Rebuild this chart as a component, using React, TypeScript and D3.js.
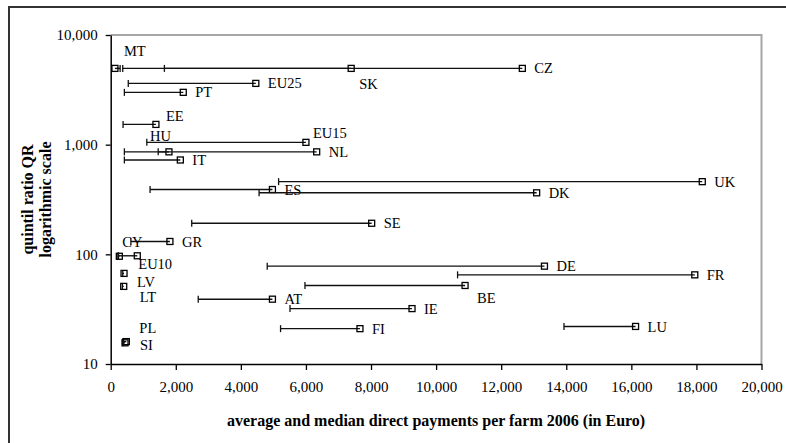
import React, { useEffect, useRef } from "react";
import * as d3 from "d3";

const countries = ["MT","CZ","SK","EU25","PT","EE","HU","EU15","NL","IT","UK","ES","DK","SE","GR","CY","EU10","DE","FR","LV","BE","LT","AT","IE","LU","FI","PL","SI"];
const medianPay = [290,370,1650,540,420,380,420,1110,1460,420,5160,1210,4560,2490,620,220,240,4810,10660,370,5970,360,2690,5510,13930,5220,380,380];
const averagePay = [130,12650,7390,4460,2230,1390,1790,6000,6330,2140,18180,4970,13090,8020,1820,265,817,13330,17950,410,10890,400,4970,9260,16130,7660,480,440];
const quintilRatio = [4960,4960,4960,3620,3000,1530,860,1050,860,725,460,390,364,192,131,96,97,78,65,67,52,51,39,32,22,21,16,15.6];
const xTicks = [0,2000,4000,6000,8000,10000,12000,14000,16000,18000,20000];
const yTicks = [10,100,1000,10000];

// label placement offsets (dx from square centre to text start, dy to text middle)
const labelOffsets: Record<string, [number, number]> = {
  MT: [9, -17], SK: [8, 16], EE: [10, -8], HU: [-19, -16], EU15: [7, -9],
  CY: [3, -14], EU10: [1, 8], LV: [13, 9], LT: [16, 11], BE: [12, 12],
  PL: [13, -14], SI: [15, 2],
};

export default function App() {
  const ref = useRef<SVGSVGElement>(null);
  useEffect(() => {
    const svg = d3.select(ref.current);
    svg.selectAll("*").remove();
    const W = 786, H = 443;
    const x = d3.scaleLinear().domain([0, 20000]).range([110.7, 761.5]);
    const y = d3.scaleLog().domain([10, 10000]).range([364, 35]);
    const font = "'Liberation Serif', 'Times New Roman', serif";

    svg.append("rect").attr("width", W).attr("height", H).attr("fill", "#fff");
    svg.append("rect").attr("x", 9).attr("y", 7).attr("width", 900).attr("height", 600)
      .attr("fill", "none").attr("stroke", "#333").attr("stroke-width", 2);

    // gray plot frame
    svg.append("path")
      .attr("d", `M${x(0)},${y(10000)}H${x(20000)}V${y(10)}`)
      .attr("fill", "none").attr("stroke", "#a6a6a6").attr("stroke-width", 2);

    const gy = svg.append("g").attr("transform", `translate(${x(0)},0)`)
      .call(d3.axisLeft(y).tickValues(yTicks).tickFormat(d3.format(",") as any).tickSize(5).tickPadding(8).tickSizeOuter(0));
    const gx = svg.append("g").attr("transform", `translate(0,${y(10)})`)
      .call(d3.axisBottom(x).tickValues(xTicks).tickFormat(d3.format(",") as any).tickSize(6).tickPadding(11).tickSizeOuter(0));
    [gx, gy].forEach(g => {
      g.selectAll("path").attr("stroke", "#000").attr("stroke-width", 1.5);
      g.selectAll("line").attr("stroke", "#000").attr("stroke-width", 1.3);
      g.selectAll("text").attr("font-family", font).attr("font-size", 15).attr("fill", "#000");
    });

    const g = svg.append("g");
    countries.forEach((c, i) => {
      const yy = y(quintilRatio[i]);
      const xm = x(medianPay[i]);
      const xa = x(averagePay[i]);
      g.append("line").attr("x1", xm).attr("x2", xa).attr("y1", yy).attr("y2", yy)
        .attr("stroke", "#111").attr("stroke-width", 1.4);
      g.append("line").attr("x1", xm).attr("x2", xm).attr("y1", yy - 3.5).attr("y2", yy + 3.5)
        .attr("stroke", "#111").attr("stroke-width", 1.3);
      g.append("rect").attr("x", xa - 3).attr("y", yy - 3).attr("width", 6).attr("height", 6)
        .attr("fill", "none").attr("stroke", "#000").attr("stroke-width", 1.3);
      const off = labelOffsets[c] || [12, 0];
      g.append("text").attr("x", xa + off[0]).attr("y", yy + off[1]).attr("dy", "0.35em")
        .attr("font-family", font).attr("font-size", 14.5).attr("fill", "#000").text(c);
    });

    svg.append("text").attr("x", (x(0) + x(20000)) / 2).attr("y", 420).attr("dy", "0.35em")
      .attr("text-anchor", "middle").attr("font-family", font).attr("font-size", 16)
      .attr("font-weight", "bold").attr("fill", "#000")
      .text("average and median direct payments per farm 2006 (in Euro)");
    const yt = svg.append("text").attr("transform", `translate(27,${(y(10) + y(10000)) / 2}) rotate(-90)`)
      .attr("text-anchor", "middle").attr("font-family", font).attr("font-size", 16)
      .attr("font-weight", "bold").attr("fill", "#000");
    yt.append("tspan").attr("x", 0).attr("dy", "0.35em").text("quintil ratio QR");
    yt.append("tspan").attr("x", 0).attr("dy", "1.12em").text("logarithmic scale");
  }, []);
  return (
    <svg ref={ref} width={786} height={443}
      style={{ position: "absolute", left: 0, top: 0, display: "block" }} />
  );
}
